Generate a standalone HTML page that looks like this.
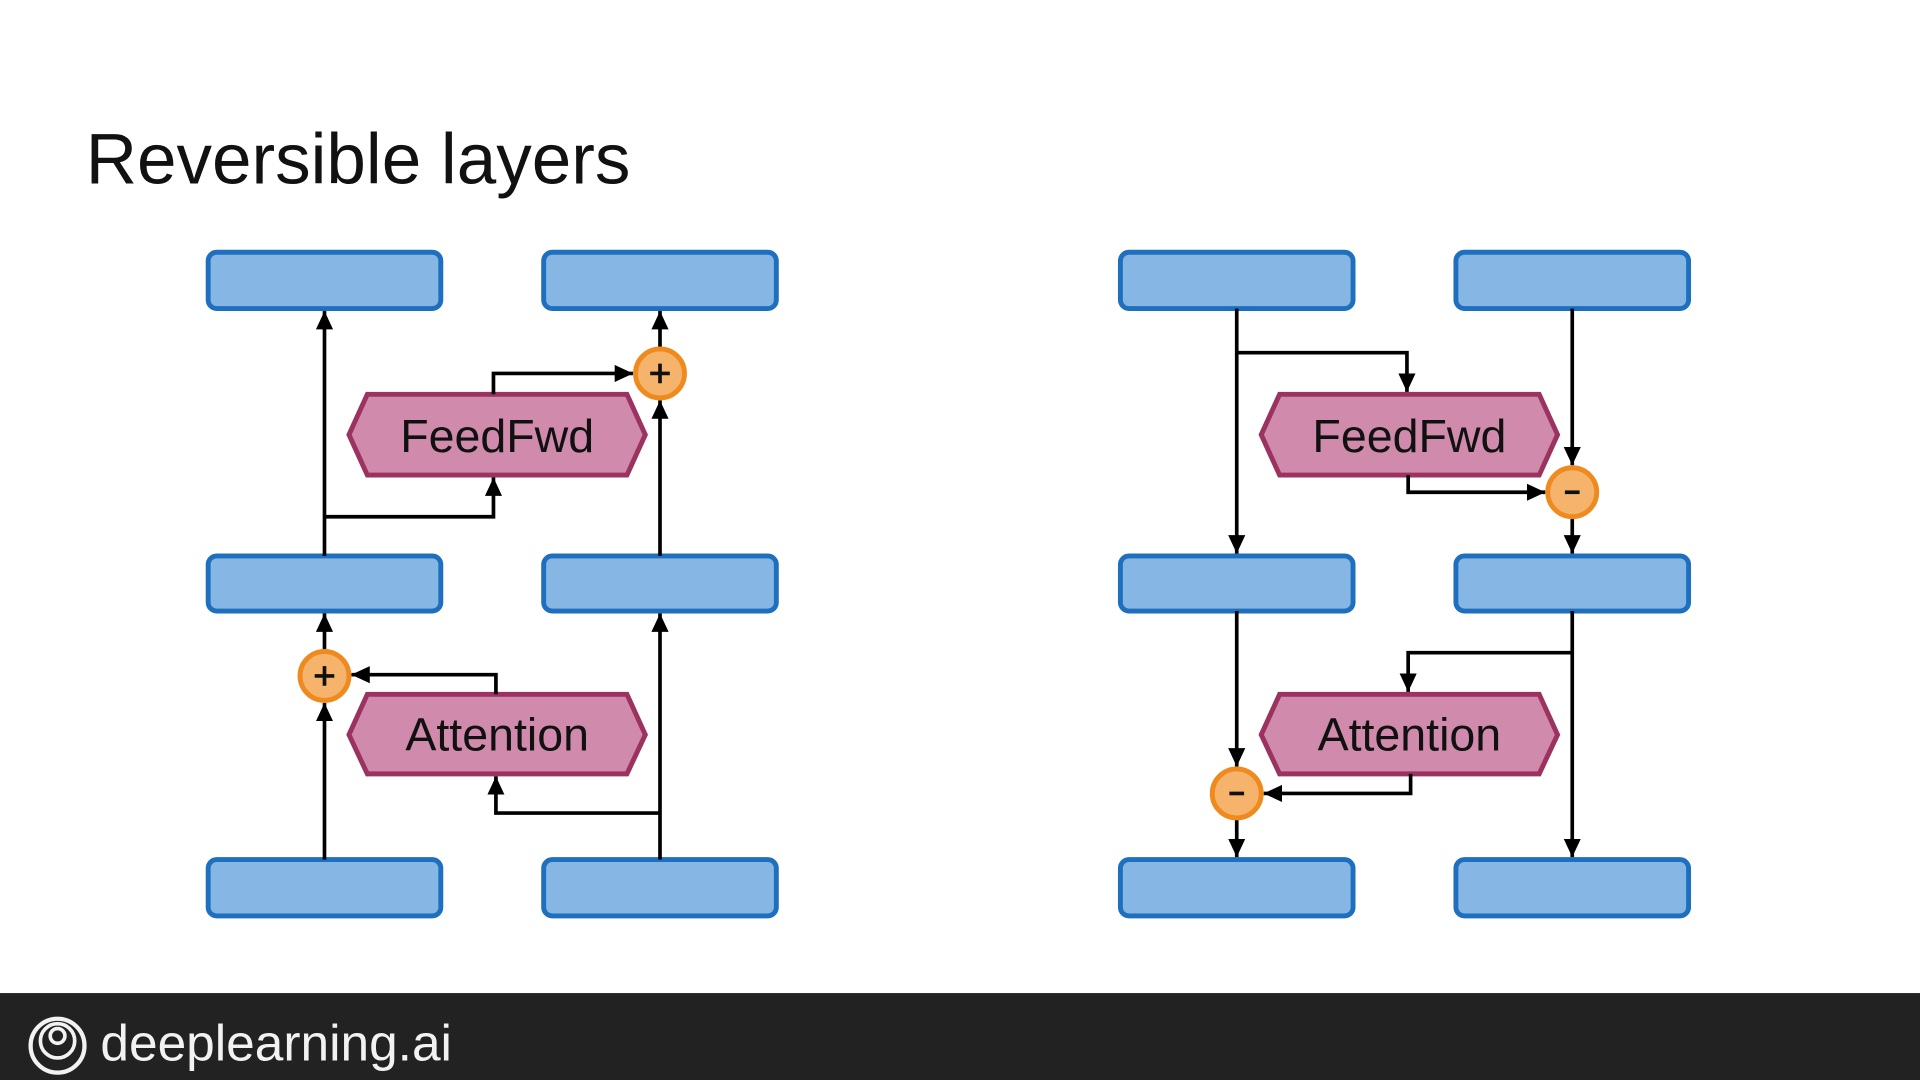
<!DOCTYPE html>
<html><head><meta charset="utf-8"><style>
html,body{margin:0;padding:0;background:#fff;width:1920px;height:1080px;overflow:hidden}
svg{display:block}
</style></head><body>
<svg width="1920" height="1080" viewBox="0 0 1568 882" xmlns="http://www.w3.org/2000/svg">
<defs>
<marker id="b" viewBox="0 0 15 14" refX="15" refY="7" markerWidth="15" markerHeight="14" markerUnits="userSpaceOnUse" orient="auto">
<path d="M0,0 L15,7 L0,14 z" fill="#000"/></marker>
</defs>
<rect width="1568" height="882" fill="#fff"/>
<text x="70" y="150" font-family="Liberation Sans, sans-serif" font-size="58" fill="#111">Reversible layers</text>

<g fill="#85b6e4" stroke="#1f6fbf" stroke-width="4">
<rect x="170" y="206" width="190" height="46" rx="7"/>
<rect x="444" y="206" width="190" height="46" rx="7"/>
<rect x="170" y="454" width="190" height="45" rx="7"/>
<rect x="444" y="454" width="190" height="45" rx="7"/>
<rect x="170" y="702" width="190" height="46" rx="7"/>
<rect x="444" y="702" width="190" height="46" rx="7"/>
<rect x="915" y="206" width="190" height="46" rx="7"/>
<rect x="1189" y="206" width="190" height="46" rx="7"/>
<rect x="915" y="454" width="190" height="45" rx="7"/>
<rect x="1189" y="454" width="190" height="45" rx="7"/>
<rect x="915" y="702" width="190" height="46" rx="7"/>
<rect x="1189" y="702" width="190" height="46" rx="7"/>
</g>

<g fill="#d08aac" stroke="#9b325f" stroke-width="4">
<polygon points="285,355 300,322 512,322 527,355 512,388 300,388"/>
<polygon points="285,600 300,567 512,567 527,600 512,632 300,632"/>
<polygon points="1030,355 1045,322 1257,322 1272,355 1257,388 1045,388"/>
<polygon points="1030,600 1045,567 1257,567 1272,600 1257,632 1045,632"/>
</g>
<g font-family="Liberation Sans, sans-serif" font-size="38" fill="#111" text-anchor="middle">
<text x="406" y="369">FeedFwd</text>
<text x="406" y="613">Attention</text>
<text x="1151" y="369">FeedFwd</text>
<text x="1151" y="613">Attention</text>
</g>

<g stroke="#000" stroke-width="3" fill="none">
<path d="M265,454 V254" marker-end="url(#b)"/>
<path d="M265,422 H403 V390" marker-end="url(#b)"/>
<path d="M403,322 V305 H517" marker-end="url(#b)"/>
<path d="M539,454 V327" marker-end="url(#b)"/>
<path d="M539,285 V254" marker-end="url(#b)"/>
<path d="M265,702 V574" marker-end="url(#b)"/>
<path d="M265,532 V501" marker-end="url(#b)"/>
<path d="M539,702 V501" marker-end="url(#b)"/>
<path d="M539,664 H405 V634" marker-end="url(#b)"/>
<path d="M405,567 V551 H287" marker-end="url(#b)"/>
<path d="M1010,252 V452" marker-end="url(#b)"/>
<path d="M1010,288 H1149 V320" marker-end="url(#b)"/>
<path d="M1284,252 V380" marker-end="url(#b)"/>
<path d="M1284,422 V452" marker-end="url(#b)"/>
<path d="M1150,388 V402 H1262" marker-end="url(#b)"/>
<path d="M1010,499 V626" marker-end="url(#b)"/>
<path d="M1010,668 V700" marker-end="url(#b)"/>
<path d="M1284,499 V700" marker-end="url(#b)"/>
<path d="M1284,533 H1150 V565" marker-end="url(#b)"/>
<path d="M1152,632 V648 H1032" marker-end="url(#b)"/>
</g>

<g fill="#f6b36b" stroke="#ee8a1e" stroke-width="4">
<circle cx="539" cy="305" r="20"/>
<circle cx="265" cy="552" r="20"/>
<circle cx="1284" cy="402" r="20"/>
<circle cx="1010" cy="648" r="20"/>
</g>
<g stroke="#111" stroke-width="3">
<path d="M531,305 H547 M539,297 V313"/>
<path d="M257,552 H273 M265,544 V560"/>
<path d="M1278,402 H1290"/>
<path d="M1004,648 H1016"/>
</g>

<rect x="0" y="811" width="1568" height="71" fill="#222"/>
<g fill="none" stroke="#f2f2f2">
<circle cx="47" cy="854" r="22" stroke-width="3.5"/>
<circle cx="47" cy="850" r="14" stroke-width="3"/>
<circle cx="47" cy="846" r="6" stroke-width="3"/>
</g>
<text x="82" y="866" font-family="Liberation Sans, sans-serif" font-size="42" fill="#f2f2f2">deeplearning.ai</text>
</svg>
</body></html>
